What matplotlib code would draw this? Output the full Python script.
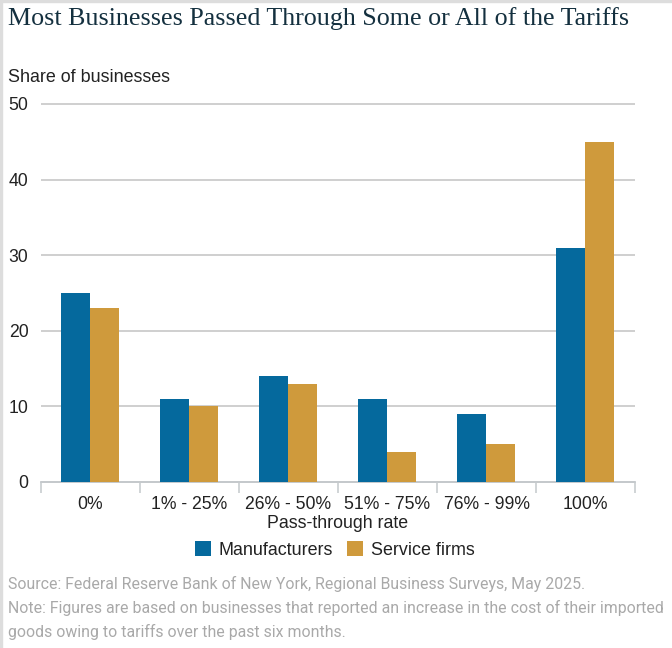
import matplotlib
matplotlib.use("Agg")
import matplotlib.pyplot as plt
from matplotlib.patches import Rectangle

categories = ["0%", "1% - 25%", "26% - 50%", "51% - 75%", "76% - 99%", "100%"]
manufacturers = [25, 11, 14, 11, 9, 31]
service_firms = [23, 10, 13, 4, 5, 45]
yticks = [0, 10, 20, 30, 40, 50]

W, H = 672, 648
BLUE, TAN = "#05699d", "#cf9a3c"
plt.rcParams["font.family"] = ["Liberation Sans"]
fig = plt.figure(figsize=(W/100, H/100), dpi=100)
L, R, T, B = 41, 635, 104, 482
ax = fig.add_axes([L/W, 1-B/H, (R-L)/W, (B-T)/H])
ax.set_xlim(0, 6); ax.set_ylim(0, 50)
bw = 29/99
shift = 0.5/99
xs = [i+0.5 for i in range(6)]
ax.bar([x-bw/2-shift for x in xs], manufacturers, bw, color=BLUE, zorder=3, label="Manufacturers")
ax.bar([x+bw/2-shift for x in xs], service_firms, bw, color=TAN, zorder=3, label="Service firms")
ax.set_yticks(yticks)
ax.set_xticks(range(7)); ax.set_xticklabels([])
ax.set_xticks(xs, minor=True); ax.set_xticklabels(categories, minor=True)
ax.grid(axis="y", color="#cfcfcf", lw=1.4, zorder=0)
for g in ax.get_ygridlines():
    g.set_clip_on(False)
    g.set_solid_capstyle("butt")
for s in ["top", "right", "left"]:
    ax.spines[s].set_visible(False)
ax.spines["bottom"].set_color("#c4c9cc"); ax.spines["bottom"].set_linewidth(1.3)
ax.tick_params(axis="y", length=0, labelsize=12.7, pad=9, labelcolor="#222222")
ax.tick_params(axis="x", which="major", length=8, color="#c4c9cc", width=1.1, direction="out")
ax.tick_params(axis="x", which="minor", length=0, labelsize=12.7, pad=10, labelcolor="#222222")

def txt(x, y, s, **k):
    fig.text(x/W, 1-y/H, s, va="center", **k)
txt(8, 19, "Most Businesses Passed Through Some or All of the Tariffs",
    family="Liberation Serif", fontsize=18.75, color="#14303f")
txt(8, 78, "Share of businesses", fontsize=12.9, color="#222222")
txt(338, 523, "Pass-through rate", fontsize=12.8, color="#222222", ha="center")
handles, labels = ax.get_legend_handles_labels()
fig.legend(handles, labels, loc="center", bbox_to_anchor=(335/W, 1-550/H), ncol=2, frameon=False,
           fontsize=12.85, handlelength=0.87, handleheight=0.87, handletextpad=0.45,
           columnspacing=0.8, labelcolor="#222222")
grey = "#a9a9a9"
for y, s in [(584, "Source: Federal Reserve Bank of New York, Regional Business Surveys, May 2025."),
             (608, "Note: Figures are based on businesses that reported an increase in the cost of their imported"),
             (632, "goods owing to tariffs over the past six months.")]:
    txt(8, y, s, family="Roboto", fontsize=11.48, color=grey)
fig.add_artist(Rectangle((0, 0), 1.5/W, 1, transform=fig.transFigure, color="#dddddd"))
fig.add_artist(Rectangle((0, 1-1.5/H), 1, 1.5/H, transform=fig.transFigure, color="#dddddd"))
fig.savefig("out.png", dpi=100)
